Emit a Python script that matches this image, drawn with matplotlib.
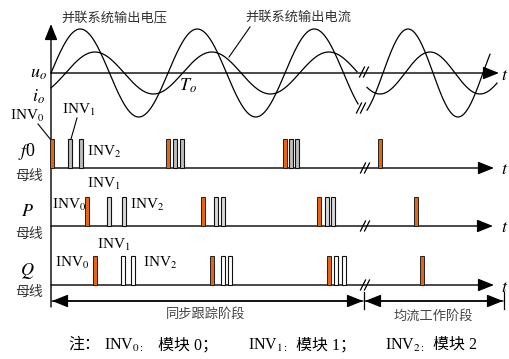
import numpy as np
import matplotlib
matplotlib.use("Agg")
import matplotlib.pyplot as plt
from matplotlib.patches import Rectangle

plt.rcParams['font.family'] = ['Liberation Serif', 'Noto Sans CJK SC']
plt.rcParams['mathtext.fontset'] = 'stix'

# waveform parameters (pixel units)
seg_start = [51, 367]
seg_end_u = [358, 490]
seg_end_i = [357, 497]
seg_zero = [51, 383]        # upward zero crossing of voltage
seg_period = [117, 100]
seg_lag = [0.125, 0.22]     # current lag, fraction of period
amp_u = 44
amp_i = 21

# pulse positions on each bus (x), INV0 / INV1 / INV2
f0_inv0 = [52, 168, 285, 380]
f0_inv1 = [70, 175, 291]
f0_inv2 = [81, 182, 297]
p_inv0 = [87, 203, 319, 416]
p_inv1 = [109, 216, 327]
p_inv2 = [124, 223, 333]
q_inv0 = [95, 212, 329, 422]
q_inv1 = [123, 223, 336]
q_inv2 = [133, 230, 344]

bus_names = ['f0', 'P', 'Q']
bus_y = [168, 226, 285]
axis_u = 73

note_parts = ['注：', 'INV$_{0:}$', '模块 0；', 'INV$_{1:}$', '模块 1；', 'INV$_{2:}$', '模块 2']
note_x = [68, 104, 158, 248, 296, 385, 433]

fig = plt.figure(figsize=(5.09, 3.59), dpi=100)
ax = fig.add_axes([0, 0, 1, 1])
ax.set_xlim(0, 509)
ax.set_ylim(359, 0)
ax.axis('off')

def arrow(x0, y0, x1, y1):
    ax.annotate('', xy=(x1, y1), xytext=(x0, y0),
                arrowprops=dict(arrowstyle='-|>,head_length=0.75,head_width=0.3',
                                lw=1.0, color='k', mutation_scale=13,
                                shrinkA=0, shrinkB=0))

def brk(x, y):
    for dx in (-2, 2):
        ax.plot([x + dx - 2.5, x + dx + 2.5], [y + 5, y - 5], color='k', lw=0.9)

# vertical axis
arrow(51, 307, 51, 24)
# voltage axis
arrow(51, axis_u, 499, axis_u)
ax.text(501, axis_u + 3, '$t$', fontsize=13, va='center', ha='left')

# waveforms
for k in range(2):
    x = np.linspace(seg_start[k], seg_end_u[k], 300)
    u = axis_u - amp_u * np.sin(2 * np.pi * (x - seg_zero[k]) / seg_period[k])
    ax.plot(x, u, color='k', lw=0.9)
    x = np.linspace(seg_start[k], seg_end_i[k], 300)
    i = axis_u - amp_i * np.sin(2 * np.pi * ((x - seg_zero[k]) / seg_period[k] - seg_lag[k]))
    ax.plot(x, i, color='k', lw=0.9)
brk(364, 72)
brk(361, 108)

ax.text(38, axis_u, '$u_o$', fontsize=13, ha='center', va='center')
ax.text(38, 97, '$i_o$', fontsize=13, ha='center', va='center')
ax.text(188, 86, '$T_o$', fontsize=13, ha='center', va='center')
ax.text(114, 18, '并联系统输出电压', fontsize=9.5, ha='center', va='center', color='#333333')
ax.text(298, 18, '并联系统输出电流', fontsize=9.5, ha='center', va='center', color='#333333')
ax.plot([250, 229], [27, 57], color='k', lw=0.8)

# buses with pulses
groups = [(f0_inv0, f0_inv1, f0_inv2), (p_inv0, p_inv1, p_inv2), (q_inv0, q_inv1, q_inv2)]
other_fill = ['#bdbdbd', '#d8d8d8', 'white']
tips = [494, 493, 494]
for b in range(3):
    y0 = bus_y[b]
    arrow(51, y0, tips[b], y0)
    ax.text(501, y0 + 2, '$t$', fontsize=13, va='center', ha='left')
    brk(365, y0)
    inv0, inv1, inv2 = groups[b]
    for xp in inv0:
        ax.add_patch(Rectangle((xp - 1.8, y0 - 29), 3.6, 29, facecolor='#e8650f',
                               edgecolor='#222222', lw=0.7, zorder=3))
    for xp in inv1 + inv2:
        ax.add_patch(Rectangle((xp - 1.8, y0 - 29), 3.6, 29, facecolor=other_fill[b],
                               edgecolor='#111111', lw=0.8, zorder=3))

# bus labels
ax.text(27, 152, '$f$0', fontsize=13, ha='center', va='center')
ax.text(29, 176, '母线', fontsize=10, ha='center', va='center', color='#333333')
ax.text(27, 212, '$P$', fontsize=13, ha='center', va='center')
ax.text(29, 234, '母线', fontsize=10, ha='center', va='center', color='#333333')
ax.text(27, 271, '$Q$', fontsize=13, ha='center', va='center')
ax.text(29, 292, '母线', fontsize=10, ha='center', va='center', color='#333333')

# INV labels
inv_lbl = [
    (10, 116, '0'), (62, 110, '1'), (87, 152, '2'),
    (52, 205, '0'), (87, 184, '1'), (130, 205, '2'),
    (55, 263, '0'), (97, 245, '1'), (143, 263, '2'),
]
for xl, yl, s in inv_lbl:
    ax.text(xl, yl, 'INV$_{%s}$' % s, fontsize=11, ha='left', va='center')
ax.plot([38, 51], [124, 140], color='k', lw=0.8)
ax.plot([77, 71], [118, 139], color='k', lw=0.8)

# stage arrows
arrow(363, 301, 52, 301)
arrow(52, 301, 363, 301)
ax.plot([364, 364], [292, 309], color='k', lw=0.9)
arrow(503, 301, 365, 301)
arrow(365, 301, 503, 301)
ax.plot([504, 504], [292, 309], color='k', lw=0.9)
ax.text(206, 314, '同步跟踪阶段', fontsize=9.5, ha='center', va='center', color='#444444')
ax.text(433, 316, '均流工作阶段', fontsize=9.5, ha='center', va='center', color='#444444')

# note line
for xn, s in zip(note_x, note_parts):
    ax.text(xn, 345, s, fontsize=11.5, ha='left', va='center')

fig.savefig('out.png', dpi=100)
